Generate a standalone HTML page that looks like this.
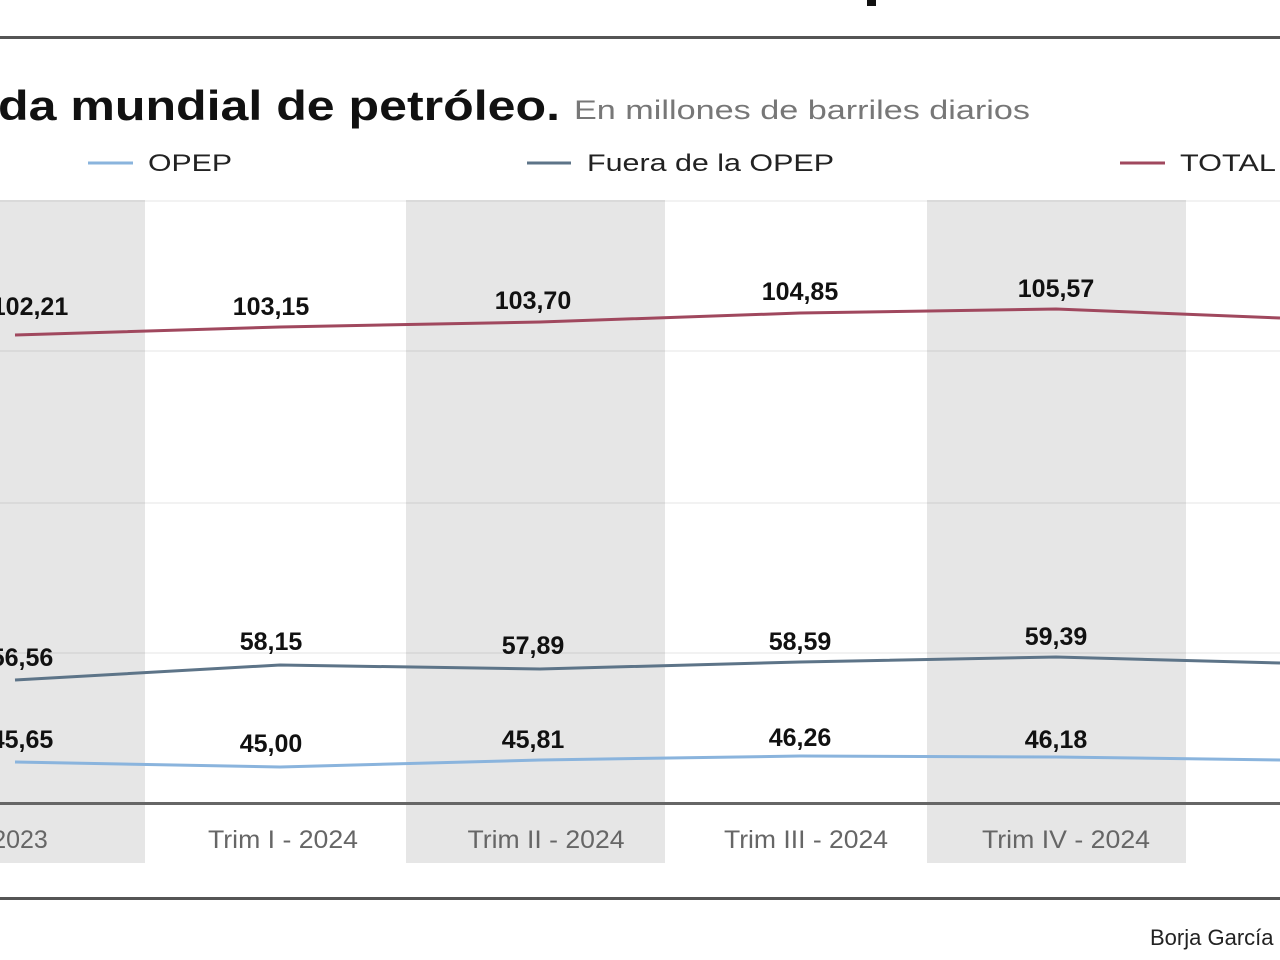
<!DOCTYPE html>
<html><head><meta charset="utf-8"><style>
html,body{margin:0;padding:0;background:#fff;width:1280px;height:960px;overflow:hidden}
svg{display:block}
</style></head><body>
<svg width="1280" height="960" viewBox="0 0 1280 960" xmlns="http://www.w3.org/2000/svg" font-family="Liberation Sans, sans-serif">
<rect width="1280" height="960" fill="#fff"/>
<rect x="867" y="0" width="9" height="6" fill="#111"/>
<rect x="0" y="36" width="1280" height="3" fill="#555"/>
<text x="-2" y="120" font-size="42" font-weight="bold" fill="#111" textLength="562" lengthAdjust="spacingAndGlyphs">da mundial de petróleo.</text>
<text x="574" y="119" font-size="27" fill="#777" textLength="456" lengthAdjust="spacingAndGlyphs">En millones de barriles diarios</text>
<line x1="88" y1="163" x2="133" y2="163" stroke="#8ab4dd" stroke-width="3"/>
<text x="148" y="171" font-size="24" fill="#222" textLength="84" lengthAdjust="spacingAndGlyphs">OPEP</text>
<line x1="527" y1="163" x2="571" y2="163" stroke="#5d7488" stroke-width="3"/>
<text x="587" y="171" font-size="24" fill="#222" textLength="247" lengthAdjust="spacingAndGlyphs">Fuera de la OPEP</text>
<line x1="1120" y1="163" x2="1165" y2="163" stroke="#a0485e" stroke-width="3"/>
<text x="1180" y="171" font-size="24" fill="#222" textLength="96" lengthAdjust="spacingAndGlyphs">TOTAL</text>
<rect x="0" y="200" width="145" height="663" fill="#e6e6e6"/>
<rect x="406" y="200" width="259" height="663" fill="#e6e6e6"/>
<rect x="927" y="200" width="259" height="663" fill="#e6e6e6"/>
<g stroke="#000" stroke-opacity="0.05" stroke-width="2">
<line x1="0" y1="201" x2="1280" y2="201"/>
<line x1="0" y1="351" x2="1280" y2="351"/>
<line x1="0" y1="503" x2="1280" y2="503"/>
<line x1="0" y1="653" x2="1280" y2="653"/>
</g>
<rect x="0" y="802" width="1280" height="3" fill="#666"/>
<polyline points="15,335 280,327 540,322 800,313 1056,309 1280,318" fill="none" stroke="#a0485e" stroke-width="3"/>
<polyline points="15,680 280,665 540,669 800,662 1056,657 1280,663" fill="none" stroke="#5d7488" stroke-width="3"/>
<polyline points="15,762 280,767 540,760 800,756 1056,757 1280,760" fill="none" stroke="#8ab4dd" stroke-width="3"/>
<g font-size="25" font-weight="bold" fill="#111" text-anchor="middle">
<text x="30" y="315">102,21</text>
<text x="271" y="315">103,15</text>
<text x="533" y="309">103,70</text>
<text x="800" y="300">104,85</text>
<text x="1056" y="297">105,57</text>
<text x="22" y="666">56,56</text>
<text x="271" y="650">58,15</text>
<text x="533" y="654">57,89</text>
<text x="800" y="650">58,59</text>
<text x="1056" y="645">59,39</text>
<text x="22" y="748">45,65</text>
<text x="271" y="752">45,00</text>
<text x="533" y="748">45,81</text>
<text x="800" y="746">46,26</text>
<text x="1056" y="748">46,18</text>
</g>
<g font-size="25" fill="#666" text-anchor="middle">
<text x="20" y="848">2023</text>
<text x="283" y="848" textLength="150" lengthAdjust="spacingAndGlyphs">Trim I - 2024</text>
<text x="546" y="848" textLength="157" lengthAdjust="spacingAndGlyphs">Trim II - 2024</text>
<text x="806" y="848" textLength="164" lengthAdjust="spacingAndGlyphs">Trim III - 2024</text>
<text x="1066" y="848" textLength="168" lengthAdjust="spacingAndGlyphs">Trim IV - 2024</text>
</g>
<rect x="0" y="897" width="1280" height="3" fill="#555"/>
<text x="1150" y="945" font-size="22" fill="#222">Borja García</text>
</svg>
</body></html>
